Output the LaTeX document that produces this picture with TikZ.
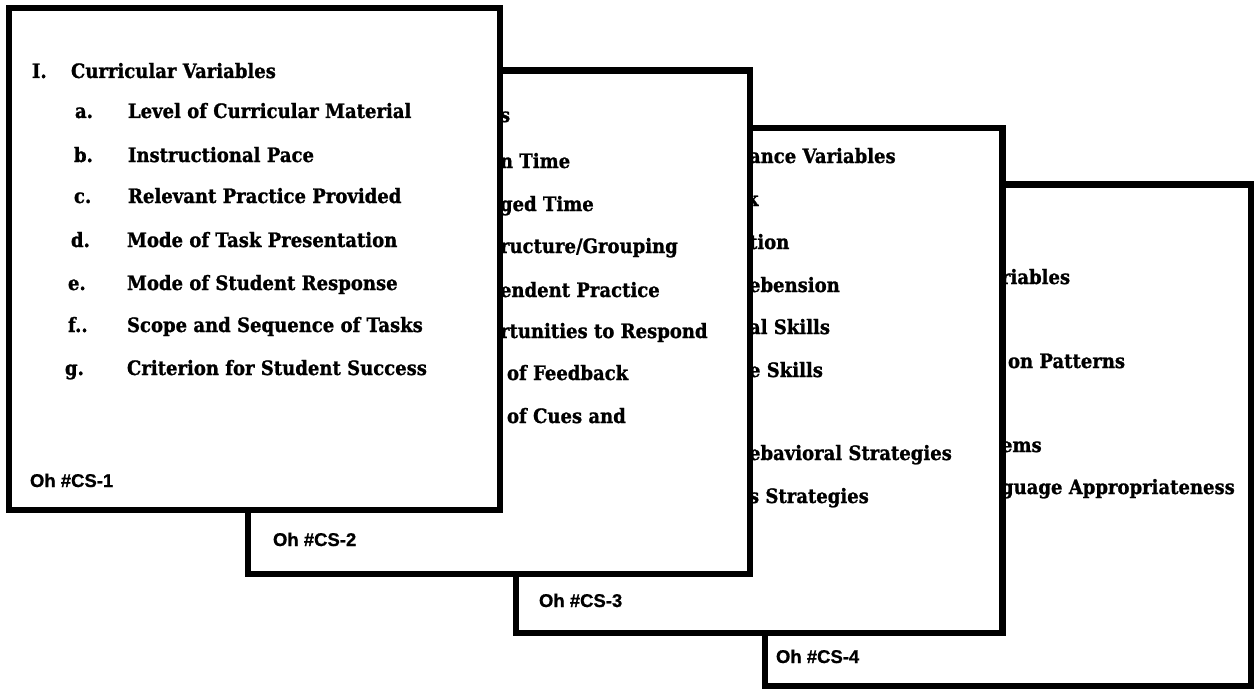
\documentclass[tikz,border=0pt]{standalone}
\usepackage{fontspec}
\newfontfamily\slideserif{DejaVu Serif}[BoldFeatures={FakeBold=1.2}]
\newfontfamily\slidesans{Liberation Sans}[BoldFeatures={FakeBold=0.8}]
\newlength\probelen
% slightly taller letters for the printed list lines
\newcommand\tallline[1]{\scalebox{1}[1.1]{#1}}
\begin{document}
% size the serif text so that a reference line has a fixed width
\settowidth{\probelen}{\slideserif\bfseries\fontsize{10}{12}\selectfont Criterion for Student Success}%
\pgfmathsetmacro\itemsz{10*300/\probelen}%
\begin{tikzpicture}[x=1pt,y=-1pt,
  card/.style n args={2}{draw=black, fill=white, line width=6.5pt,
    minimum width=#1, minimum height=#2, inner sep=0pt, outer sep=0pt},
  body/.style={anchor=base west, inner sep=0pt, outer sep=0pt,
    font=\slideserif\bfseries\fontsize{\itemsz}{\itemsz}\selectfont},
  tag/.style={anchor=base west, inner sep=0pt, outer sep=0pt,
    font=\slidesans\bfseries\fontsize{18.5}{18.5}\selectfont}]
\fill[white] (0,0) rectangle (1255,690);
\useasboundingbox (0,0) rectangle (1255,690);

% ---- sheet 4 (bottom of the stack)
\node[card={486pt}{501.5pt}] (card4) at (1008,435.25) {};
\node[body] (c4a) at (1001,284) {\tallline{riables}};
\node[body] (c4b) at (1008,368) {\tallline{on Patterns}};
\node[body] (c4c) at (1001,452) {\tallline{ems}};
\node[body] (c4d) at (1001,494) {\tallline{guage Appropriateness}};
\node[tag] (c4t) at (776,663) {Oh \#CS-4};

% ---- sheet 3
\node[card={486.5pt}{505pt}] (card3) at (759.25,380.5) {};
\node[body] (c3h) at (749,163) {\tallline{ance Variables}};
\node[body] (c3a) at (746,206) {\tallline{k}};
\node[body] (c3b) at (749,249) {\tallline{tion}};
\node[body] (c3c) at (749,292) {\tallline{ebension}};
\node[body] (c3d) at (749,334) {\tallline{al Skills}};
\node[body] (c3e) at (749,377) {\tallline{e Skills}};
\node[body] (c3f) at (749,460) {\tallline{ebavioral Strategies}};
\node[body] (c3g) at (749,503) {\tallline{s Strategies}};
\node[tag] (c3t) at (539,607) {Oh \#CS-3};

% ---- sheet 2
\node[card={502pt}{503.5pt}] (card2) at (499,322.25) {};
\node[body] (c2h) at (500,122) {\tallline{s}};
\node[body] (c2a) at (500,168) {\tallline{n Time}};
\node[body] (c2b) at (500,211) {\tallline{ged Time}};
\node[body] (c2c) at (500,253) {\tallline{ructure/Grouping}};
\node[body] (c2d) at (500,297) {\tallline{endent Practice}};
\node[body] (c2e) at (500,338) {\tallline{rtunities to Respond}};
\node[body] (c2f) at (507,380) {\tallline{of Feedback}};
\node[body] (c2g) at (507,423) {\tallline{of Cues and}};
\node[tag] (c2t) at (273,546) {Oh \#CS-2};

% ---- sheet 1 (top of the stack)
\node[card={491pt}{502pt}] (card1) at (254.5,259) {};
\node[body] (c1n) at (32,78) {\tallline{I.}};
\node[body] (c1h) at (71,78) {\tallline{Curricular Variables}};
\node[body] (c1la) at (75,118) {\tallline{a.}};
\node[body] (c1a) at (128,118) {\tallline{Level of Curricular Material}};
\node[body] (c1lb) at (74,162) {\tallline{b.}};
\node[body] (c1b) at (128,162) {\tallline{Instructional Pace}};
\node[body] (c1lc) at (74,203) {\tallline{c.}};
\node[body] (c1c) at (128,203) {\tallline{Relevant Practice Provided}};
\node[body] (c1ld) at (71,247) {\tallline{d.}};
\node[body] (c1d) at (127,247) {\tallline{Mode of Task Presentation}};
\node[body] (c1le) at (68,290) {\tallline{e.}};
\node[body] (c1e) at (127,290) {\tallline{Mode of Student Response}};
\node[body] (c1lf) at (68,332) {\tallline{f..}};
\node[body] (c1f) at (127,332) {\tallline{Scope and Sequence of Tasks}};
\node[body] (c1lg) at (65,375) {\tallline{g.}};
\node[body] (c1g) at (127,375) {\tallline{Criterion for Student Success}};
\node[tag] (c1t) at (30,487) {Oh \#CS-1};
\end{tikzpicture}
\end{document}
